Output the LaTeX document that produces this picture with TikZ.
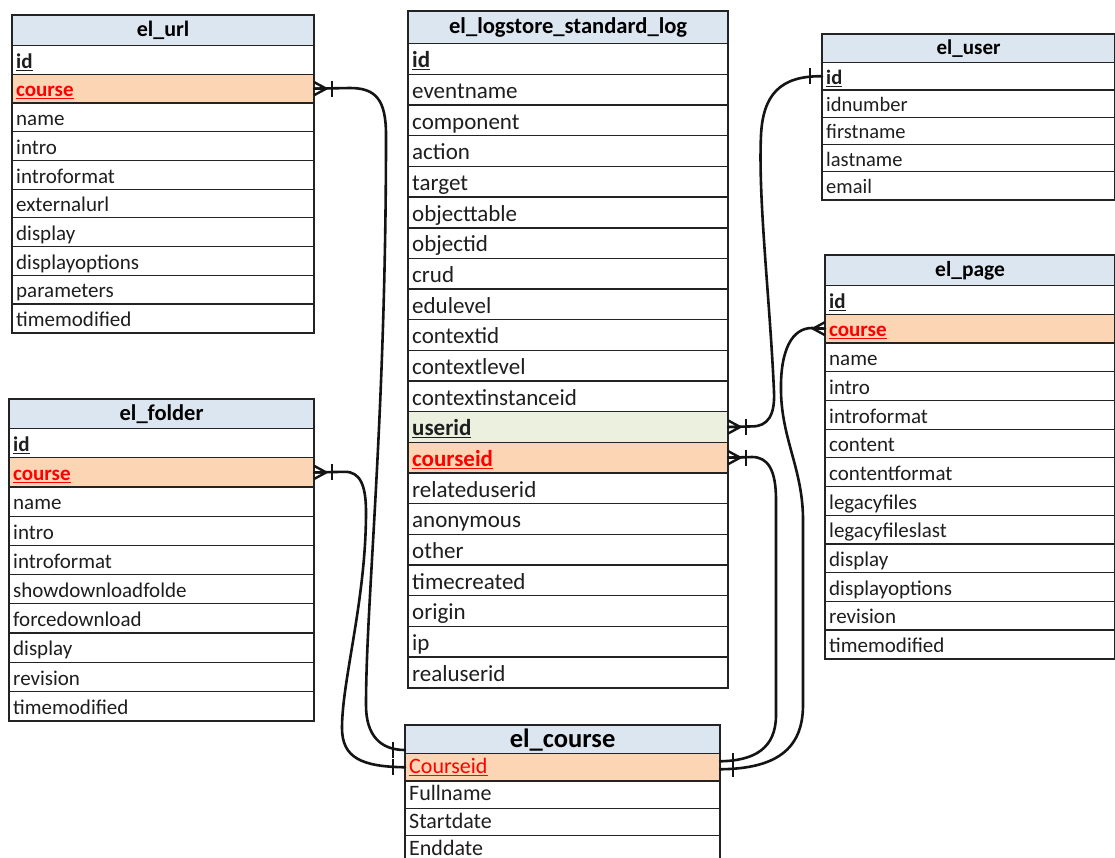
\documentclass[tikz,border=0pt]{standalone}
\usepackage{fontspec}
\setmainfont{Carlito}
\usetikzlibrary{calc}

\definecolor{hdrfill}{RGB}{220,230,241}
\definecolor{fkfill}{RGB}{252,213,180}
\definecolor{ukfill}{RGB}{235,241,222}
\definecolor{fkred}{RGB}{255,0,0}
\definecolor{gridline}{RGB}{35,35,35}
\definecolor{rowtext}{RGB}{30,30,30}

% key markers inside a table row
\newcommand\pkey[1]{\textbf{\underline{#1}}}
\newcommand\fkey[1]{\textcolor{fkred}{\textbf{\underline{#1}}}}
\newcommand\fkeyplain[1]{\textcolor{fkred}{\underline{#1}}}

% row font and baseline drop below the row centre, set per table
\def\rowfont{\fontsize{21}{24}\selectfont}
\def\basedrop{8.5}

\tikzset{
  hdr/.style={draw=gridline, line width=1.2, fill=hdrfill, anchor=north west,
    inner sep=0, font=\bfseries},
  cell/.style={draw=gridline, line width=1.2, fill=white, anchor=north west, inner sep=0},
  plain/.style={},
  pk/.style={},
  fk/.style={fill=fkfill},
  uk/.style={fill=ukfill},
  celltext/.style={anchor=base west, inner sep=0, font=\rowfont, text=rowtext},
  frame/.style={draw=gridline, line width=2},
  conn/.style={draw=black!92, line width=2.6, line cap=round},
  tipln/.style={draw=black!92, line width=2.4},
}

% table: name, left, top, width, header height, row height, title, rows (text/kind)
\newcommand\ertable[8]{%
  \node[hdr, minimum width=#4, minimum height=#5] (#1-0) at (#2,#3) {#7};
  \foreach \txt/\kind [count=\i] in {#8}{%
    \node[cell, \kind, minimum width=#4, minimum height=#6] (#1-\i) at (#2,{#3+#5+(\i-1)*#6}) {};
    \node[celltext] (#1-t\i) at ([xshift=4,yshift=-\basedrop]#1-\i.west) {\txt};
    \xdef\lastrow{\i}%
  }
  \draw[frame] (#1-0.north west) rectangle (#1-\lastrow.south east);
}

% crow's foot (many) with its bar, on an east side
\newcommand\crowright[1]{%
  \draw[tipln] ([yshift=6.5]#1) -- ([xshift=12]#1) -- ([yshift=-6.5]#1) (#1) -- ([xshift=12]#1);
  \draw[tipln] ([xshift=18,yshift=8]#1) -- ([xshift=18,yshift=-8]#1);
}
% crow's foot on a west side
\newcommand\crowleft[1]{%
  \draw[tipln] ([yshift=6.5]#1) -- ([xshift=-12]#1) -- ([yshift=-6.5]#1) (#1) -- ([xshift=-12]#1);
}

\begin{document}
\begin{tikzpicture}[x=1pt,y=-1pt]
\useasboundingbox (0,0) rectangle (1115,857);
\clip (0,0) rectangle (1115,857);
\fill[white] (0,0) rectangle (1115,857);

% ---------- tables ----------
\def\rowfont{\fontsize{21}{24}\selectfont}\def\basedrop{8.3}
\ertable{url}{12}{15}{301}{30}{28.7}{\fontsize{22}{24}\selectfont el\_url}
 {\pkey{id}/pk, \fkey{course}/fk, name/plain, intro/plain, introformat/plain,
  externalurl/plain, display/plain, displayoptions/plain, parameters/plain, timemodified/plain}

\def\rowfont{\fontsize{23}{26}\selectfont}\def\basedrop{8.8}
\ertable{log}{408}{11}{319}{32}{30.67}{\fontsize{22.6}{25}\selectfont el\_logstore\_standard\_log}
 {\pkey{id}/pk, eventname/plain, component/plain, action/plain, target/plain,
  objecttable/plain, objectid/plain, crud/plain, edulevel/plain, contextid/plain,
  contextlevel/plain, contextinstanceid/plain, \pkey{userid}/uk, \fkey{courseid}/fk,
  relateduserid/plain, anonymous/plain, other/plain, timecreated/plain, origin/plain,
  ip/plain, realuserid/plain}
\draw[frame] (log-6.south west) -- (log-6.south east);

\def\rowfont{\fontsize{20.5}{23}\selectfont}\def\basedrop{8}
\ertable{user}{822}{34}{292}{28}{27.3}{\fontsize{21}{24}\selectfont el\_user}
 {\pkey{id}/pk, idnumber/plain, firstname/plain, lastname/plain, email/plain}

\def\rowfont{\fontsize{21}{24}\selectfont}\def\basedrop{8.3}
\ertable{page}{825}{255}{289}{30}{28.7}{\fontsize{21.5}{24}\selectfont el\_page}
 {\pkey{id}/pk, \fkey{course}/fk, name/plain, intro/plain, introformat/plain,
  content/plain, contentformat/plain, legacyfiles/plain, legacyfileslast/plain,
  display/plain, displayoptions/plain, revision/plain, timemodified/plain}

\def\rowfont{\fontsize{21}{24}\selectfont}\def\basedrop{8.3}
\ertable{folder}{9}{399}{304}{29}{29.2}{\fontsize{22.5}{25}\selectfont el\_folder}
 {\pkey{id}/pk, \fkey{course}/fk, name/plain, intro/plain, introformat/plain,
  showdownloadfolde/plain, forcedownload/plain, display/plain, revision/plain,
  timemodified/plain}

\def\rowfont{\fontsize{22}{25}\selectfont}\def\basedrop{6.3}
\ertable{course}{405}{725}{314}{28}{27.3}{\fontsize{26.5}{29}\selectfont el\_course}
 {\fkeyplain{Courseid}/fk, Fullname/plain, Startdate/plain, Enddate/plain}

% ---------- relationships ----------
% el_url.course -> el_course.Courseid
\draw[conn] (url-2.east) -- (350,88) .. controls (376,88) and (386,100) .. (386,135)
  .. controls (386,420) and (366,600) .. (366,705)
  .. controls (366,735) and (380,750) .. ([yshift=3]course-1.north west);
\crowright{url-2.east}
\draw[tipln] ([xshift=-12,yshift=11]course-1.north west) -- ([xshift=-12,yshift=-5]course-1.north west);

% el_folder.course -> el_course.Courseid
\draw[conn] (folder-2.east) -- (345,471.8) .. controls (360,471.8) and (366,485) .. (366,512)
  .. controls (366,600) and (342,680) .. (342,728)
  .. controls (342,758) and (362,766.7) .. (course-1.west);
\crowright{folder-2.east}
\draw[tipln] ([xshift=-12,yshift=8]course-1.west) -- ([xshift=-12,yshift=-8]course-1.west);

% el_logstore.userid -> el_user.id
\draw[conn] (log-13.east) -- (752,426.4) .. controls (768,426.4) and (775,415) .. (774,392)
  .. controls (770,300) and (758,200) .. (761,135)
  .. controls (763,95) and (780,75.6) .. (user-1.west);
\crowright{log-13.east}
\draw[tipln] ([xshift=-12,yshift=8]user-1.west) -- ([xshift=-12,yshift=-8]user-1.west);

% el_logstore.courseid -> el_course.Courseid
\draw[conn] (log-14.east) -- (752,457) .. controls (768,457) and (776,470) .. (776,500)
  -- (776,715) .. controls (776,748) and (755,760.7) .. ([yshift=6]course-1.east);
\crowright{log-14.east}

% el_page.course -> el_course.Courseid
\draw[conn] (page-2.west) -- (812,328) .. controls (792,328) and (780,350) .. (781,392)
  .. controls (782,440) and (803,470) .. (803,520)
  -- (803,705) .. controls (803,750) and (775,768.7) .. ([yshift=-2]course-1.east);
\crowleft{page-2.west}
\draw[tipln] ([xshift=13,yshift=14]course-1.east) -- ([xshift=13,yshift=-10]course-1.east);
\end{tikzpicture}
\end{document}
